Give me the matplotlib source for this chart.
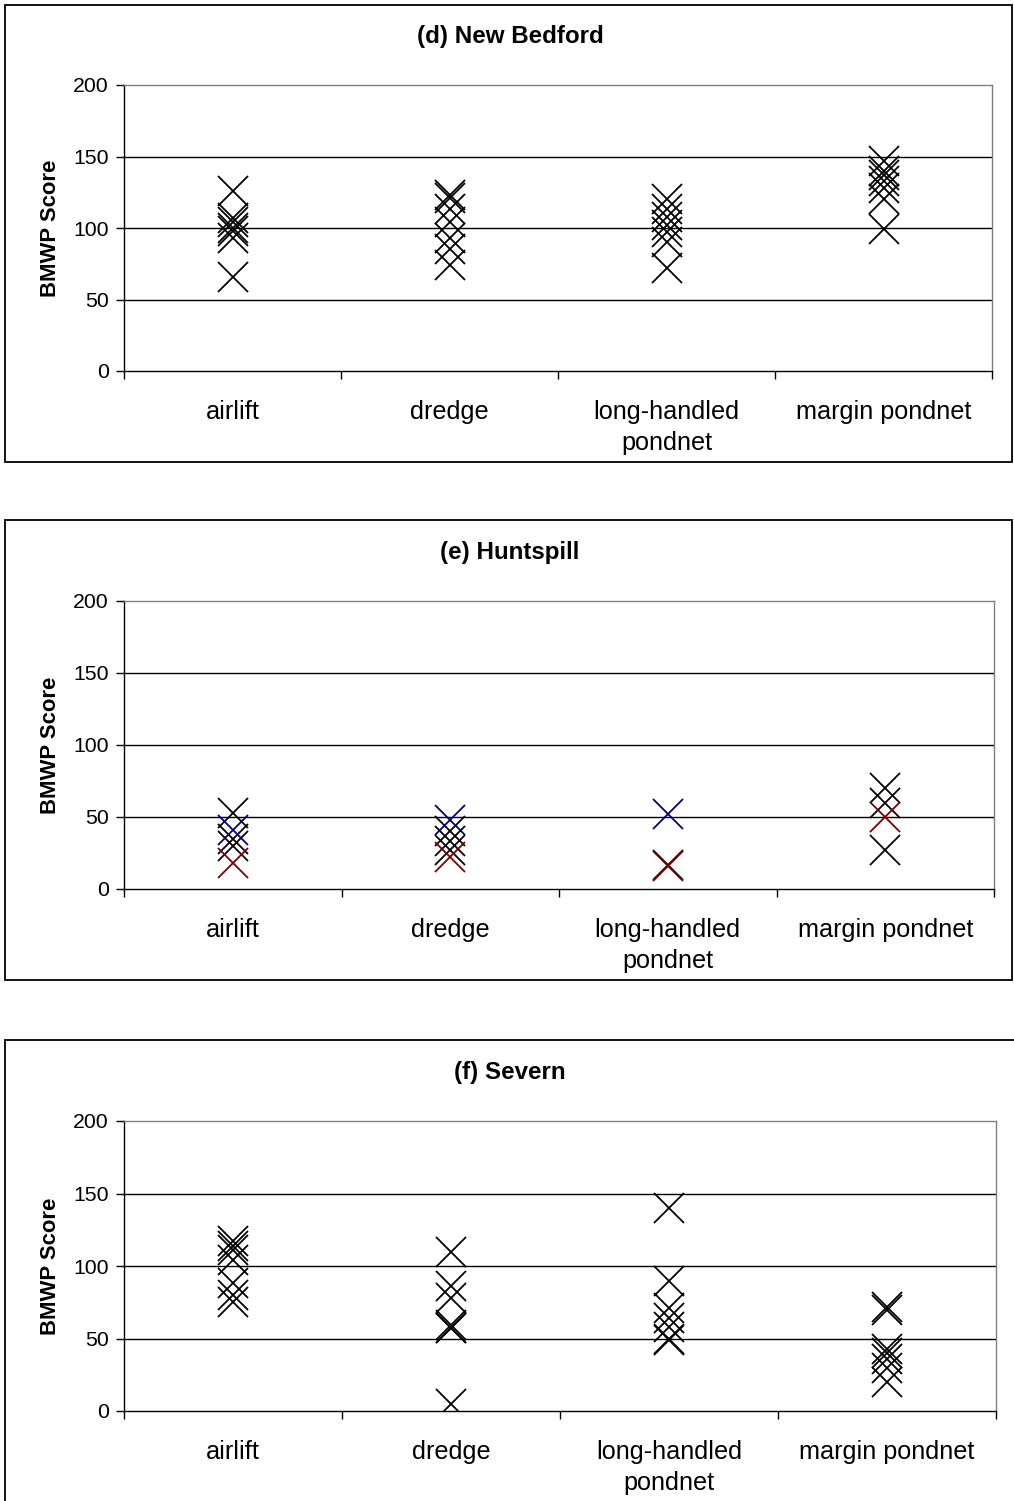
import matplotlib
matplotlib.use("Agg")
import matplotlib.pyplot as plt
from matplotlib.patches import Rectangle

plt.rcParams['font.family'] = ['Liberation Sans', 'DejaVu Sans']

categories = ["airlift", "dredge", "long-handled\npondnet", "margin pondnet"]
y_ticks = [0, 50, 100, 150, 200]

# (d) New Bedford - all black
d_airlift = [126, 107, 104, 100, 98, 93, 66]
d_dredge = [123, 121, 113, 104, 93, 85, 74]
d_longhandled = [120, 113, 108, 102, 97, 90, 72]
d_margin = [147, 140, 137, 133, 128, 120, 99]

# (e) Huntspill - three series
e_black = [[53, 35, 30], [40, 33, 27], [17], [70, 60, 27]]
e_blue = [[41], [48], [52], []]
e_red = [[18], [22], [16], [50]]

# (f) Severn - all black
f_airlift = [117, 114, 111, 104, 88, 80, 75]
f_dredge = [110, 86, 78, 59, 57, 57, 5]
f_longhandled = [140, 90, 71, 64, 58, 50, 49]
f_margin = [72, 70, 43, 40, 36, 30, 20]

BLACK = "#000000"
NAVY = "#000080"
MAROON = "#800000"

W, H = 1014, 1501
fig = plt.figure(figsize=(W / 100, H / 100), dpi=100)


def px_rect(l, t, r, b):
    return [l / W, 1 - b / H, (r - l) / W, (b - t) / H]


panels = [
    dict(title="(d) New Bedford", frame=(5, 5, 1012, 462), ax=(124, 85, 992, 371),
         title_y=36,
         series=[(BLACK, [d_airlift, d_dredge, d_longhandled, d_margin])]),
    dict(title="(e) Huntspill", frame=(5, 520, 1012, 980), ax=(124, 601, 994, 889),
         title_y=553,
         series=[(BLACK, e_black), (NAVY, e_blue), (MAROON, e_red)]),
    dict(title="(f) Severn", frame=(5, 1040, 1016, 1506), ax=(124, 1121, 996, 1411),
         title_y=1073,
         series=[(BLACK, [f_airlift, f_dredge, f_longhandled, f_margin])]),
]

for p in panels:
    l, t, r, b = p["frame"]
    fig.patches.append(Rectangle((l / W, 1 - b / H), (r - l) / W, (b - t) / H,
                                 transform=fig.transFigure, fill=False,
                                 edgecolor="black", linewidth=1.3))
    ax = fig.add_axes(px_rect(*p["ax"]))
    for color, groups in p["series"]:
        for i, vals in enumerate(groups):
            if vals:
                ax.plot([i] * len(vals), vals, linestyle="none", marker="x",
                        markersize=21, markeredgewidth=1.3, color=color, zorder=3)
    ax.set_xlim(-0.5, 3.5)
    ax.set_ylim(0, 200)
    ax.set_yticks(y_ticks)
    ax.set_yticklabels([str(v) for v in y_ticks], fontsize=15.3)
    for v in y_ticks[1:-1]:
        ax.axhline(v, color="black", linewidth=1.0, zorder=1)
    ax.set_xticks(range(len(categories)))
    ax.set_xticklabels(categories, fontsize=18.2, linespacing=1.36)
    ax.tick_params(axis="x", which="major", length=0, pad=21)
    ax.set_xticks([-0.5, 0.5, 1.5, 2.5, 3.5], minor=True)
    ax.tick_params(axis="x", which="minor", length=6, width=1.0, direction="out")
    ax.tick_params(axis="y", length=6, width=1.0, direction="out", pad=5)
    for s in ("top", "right"):
        ax.spines[s].set_color("#808080")
        ax.spines[s].set_linewidth(1.0)
    for s in ("left", "bottom"):
        ax.spines[s].set_color("black")
        ax.spines[s].set_linewidth(1.0)
    ax.set_ylabel("BMWP Score", fontsize=15.9, fontweight="bold", labelpad=9)
    fig.text(0.503, 1 - p["title_y"] / H, p["title"], ha="center", va="center",
             fontsize=17.4, fontweight="bold")

fig.savefig("out.png", dpi=100)
